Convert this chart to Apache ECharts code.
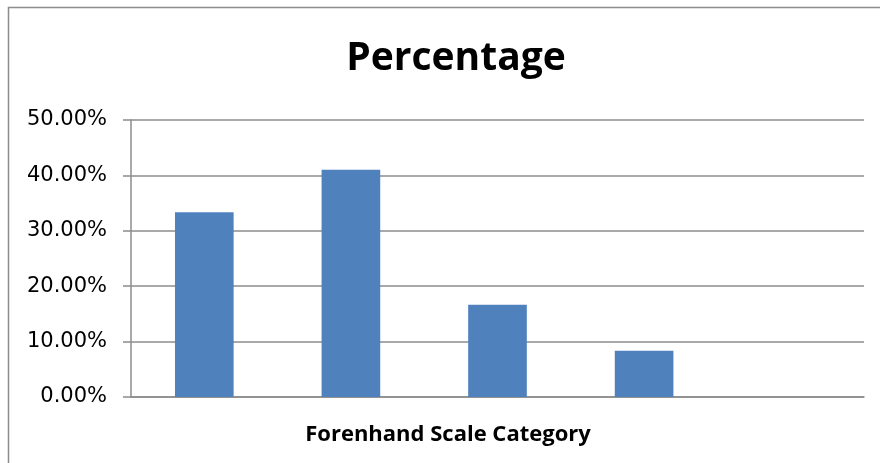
<!DOCTYPE html>
<html>
<head>
<meta charset="utf-8">
<style>
html,body{margin:0;padding:0;background:#fff;}
#chart{width:880px;height:463px;}
</style>
<script src="https://cdn.jsdelivr.net/npm/echarts@6/dist/echarts.min.js"></script>
</head>
<body>
<div id="chart"></div>
<script>
var titleText = 'Percentage';
var xAxisTitle = 'Forenhand Scale Category';
var categories = ['1', '2', '3', '4', '5'];
var percentValues = [33.33, 41.0, 16.67, 8.33, 0];
var yTicks = [0, 10, 20, 30, 40, 50];

var chart = echarts.init(document.getElementById('chart'));
chart.setOption({
  animation: false,
  backgroundColor: '#ffffff',
  grid: { left: 131, right: 16, top: 120, bottom: 66, containLabel: false },
  graphic: [
    { type: 'rect', z: -1, shape: { x: 8.5, y: 7.5, width: 900, height: 500 },
      style: { fill: 'none', stroke: '#8c8c8c', lineWidth: 1.5 } },
    { type: 'text', x: 456, y: 59,
      style: { text: titleText, fill: '#000', font: 'bold 39px "Open Sans"', align: 'center', verticalAlign: 'middle' } },
    { type: 'text', x: 448, y: 435,
      style: { text: xAxisTitle, fill: '#000', font: 'bold 22px "Open Sans"', align: 'center', verticalAlign: 'middle' } }
  ],
  xAxis: {
    type: 'category',
    data: categories,
    axisLine: { show: true, lineStyle: { color: '#8c8c8c', width: 1.5 } },
    axisTick: { show: false },
    axisLabel: { show: false }
  },
  yAxis: {
    type: 'value',
    min: yTicks[0],
    max: yTicks[yTicks.length - 1],
    interval: yTicks[1] - yTicks[0],
    axisLine: { show: true, lineStyle: { color: '#8c8c8c', width: 1.5 } },
    axisTick: { show: true, length: 8, lineStyle: { color: '#8c8c8c', width: 1.5 } },
    splitLine: { show: true, lineStyle: { color: '#8c8c8c', width: 1.5 } },
    axisLabel: {
      margin: 24,
      color: '#000',
      fontFamily: 'DejaVu Sans',
      fontSize: 21,
      formatter: function (v) { return v.toFixed(2) + '%'; }
    }
  },
  series: [{
    type: 'bar',
    data: percentValues,
    barCategoryGap: '60%',
    itemStyle: { color: '#4F81BD' }
  }]
});
</script>
</body>
</html>
